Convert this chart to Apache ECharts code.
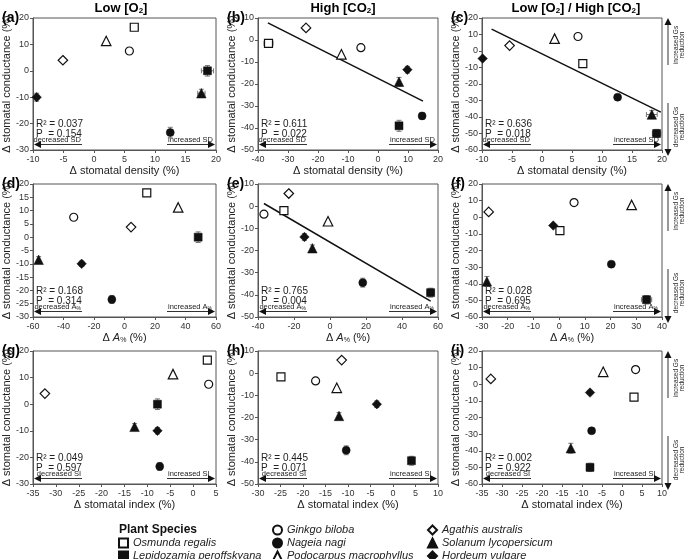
<!DOCTYPE html>
<html><head><meta charset="utf-8">
<script src="https://cdn.jsdelivr.net/npm/echarts@6/dist/echarts.min.js"></script>
<style>html,body{margin:0;padding:0;background:#fff}#c{width:685px;height:559px}</style>
</head><body><div id="c"></div><script>
// ---------- data ----------
const species = ['Osmunda regalis','Lepidozamia peroffskyana','Ginkgo biloba','Nageia nagi','Podocarpus macrophyllus','Agathis australis','Solanum lycopersicum','Hordeum vulgare'];
const symbols = ['rect','rect','circle','circle','triangle','diamond','triangle','diamond'];
const filled  = [false,true,false,true,false,false,true,true];

const aX = [6.6, 18.6, 5.8, 12.5, 2.0, -5.1, 17.6, -9.4];
const aY = [16.5, 0, 7.5, -23.4, 11.3, 4.0, -8.5, -10];
const bX = [-36.5, 7.0, -5.7, 14.7, -12.2, -24.0, 7.0, 9.8];
const bY = [-1.5, -39, -3.5, -34.5, -6.5, 5.5, -19, -13.5];
const cX = [6.8, 19.1, 6.0, 12.6, 2.1, -5.4, 18.3, -9.9];
const cY = [-7.7, -50, 8.8, -28, 7.5, 3.3, -38.5, -4.6];
const dX = [14.6, 48.3, -33.3, -8.3, 35.2, 4.3, -56.3, -28.1];
const dY = [16.7, 0, 7.5, -23.4, 11.2, 3.8, -8.5, -10];
const eX = [-25.6, 55.9, -36.7, 18.2, -1.1, -22.9, -9.8, -14.2];
const eY = [-2, -39, -3.6, -34.5, -6.8, 5.7, -19, -13.9];
const fX = [0.3, 34.0, 5.8, 20.3, 28.2, -27.4, -28.1, -2.3];
const fY = [-8, -49.6, 8.8, -28.2, 7.4, 3.2, -38.6, -5];
const gX = [3.1, -7.8, 3.4, -7.3, -4.4, -32.4, -12.8, -7.8];
const gY = [16.6, 0, 7.5, -23.4, 11.3, 4.0, -8.5, -10];
const hX = [-24.9, 4.1, -17.2, -10.4, -12.5, -11.4, -12.0, -3.6];
const hY = [-1.7, -39.5, -3.5, -34.8, -6.6, 5.9, -19.3, -14];
const iX = [3.0, -8.0, 3.4, -7.6, -4.7, -32.8, -12.8, -8.0];
const iY = [-7.8, -50, 8.8, -28, 7.5, 3.2, -38.5, -5];

// error bars (x half-width, y half-width), species order
const aEx = [0, 1.0, 0, 0, 0, 0, 0.6, 0.4], aEy = [0, 2, 0, 2, 0, 0, 1.5, 1.5];
const bEx = [1.5, 0, 0, 0, 0, 1, 0, 0],     bEy = [0, 2.5, 0, 1.5, 0, 0, 2, 1.5];
const cEx = [0, 0.7, 0, 0, 0, 0, 0.9, 0],   cEy = [0, 2.5, 0, 1.5, 0, 0, 2.5, 1];
const dEx = [0, 1.5, 0, 0, 0, 0, 0, 1.5],   dEy = [0, 2, 0, 1.5, 0, 0, 1.2, 1];
const eEx = [0, 2, 0, 0, 0, 0, 0, 0],       eEy = [0, 2, 0, 2, 0, 0, 1.5, 1.5];
const fEx = [0, 2, 0, 0, 0, 0, 0, 0],       fEy = [0, 2.5, 0, 1.5, 0, 0, 3, 0];
const gEx = [0, 0, 0, 0, 0, 0, 0, 0],       gEy = [0, 2, 0, 1.5, 0, 0, 1.2, 1.2];
const hEx = [0, 0, 0, 0, 0, 0, 0, 0],       hEy = [0, 2, 0, 2, 0, 0, 1.5, 1.5];
const iEx = [0, 0, 0, 0, 0, 0, 0, 0],       iEy = [0, 2.5, 0, 1.5, 0, 0, 3, 1];

// regression lines (end points)
const bLine = [[-36.7, 7.8], [15, -27.8]];
const cLine = [[-8.4, 13.3], [19.8, -37]];
const eLine = [[-36.7, 1.2], [55.9, -42.8]];

const r2   = ['0.037','0.611','0.636','0.168','0.765','0.028','0.049','0.445','0.002'];
const pval = ['0.154','0.022','0.018','0.314','0.004','0.695','0.597','0.071','0.922'];

const xRange = [[-10,20,5],[-40,20,10],[-10,20,5],[-60,60,20],[-40,60,20],[-30,40,10],[-35,5,5],[-30,10,5],[-35,10,5]];
const yRange = [[-30,20,10],[-50,10,10],[-60,20,10],[-30,20,5],[-50,10,10],[-60,20,10],[-30,20,10],[-50,10,10],[-60,20,10]];

const colTitles = ['{b|Low [O}{s|2}{b|]}','{b|High [CO}{s|2}{b|]}','{b|Low [O}{s|2}{b|] / High [CO}{s|2}{b|]}'];
const panelLabels = ['(a)','(b)','(c)','(d)','(e)','(f)','(g)','(h)','(i)'];
const xNames = ['Δ stomatal density (%)','Δ {i|A}{s|%} (%)','Δ stomatal index (%)'];
const yName = 'Δ stomatal conductance (%)';
const leftAnno  = ['decreased SD','decreased {t|A}{ts|%}','decreased SI'];
const rightAnno = ['increased SD','increased {t|A}{ts|%}','increased SI'];

// ---------- build ----------
const FONT = '"Liberation Sans", Arial, Helvetica, sans-serif';
const panelsX = [aX,bX,cX,dX,eX,fX,gX,hX,iX];
const panelsY = [aY,bY,cY,dY,eY,fY,gY,hY,iY];
const panelsEx = [aEx,bEx,cEx,dEx,eEx,fEx,gEx,hEx,iEx];
const panelsEy = [aEy,bEy,cEy,dEy,eEy,fEy,gEy,hEy,iEy];
const lines = {1: bLine, 2: cLine, 4: eLine};

const cols = [{l:33,w:183},{l:258,w:180},{l:482,w:180}];
const rows = [{t:18,h:132},{t:184,h:133},{t:351,h:133}];
const AX = '#555';
const INK = '#222';

const grids=[], xAxes=[], yAxes=[], series=[], graphics=[];
const smallRich = {
  t:{fontSize:7.5, fontFamily:FONT, fill:INK},
  ts:{fontSize:5, fontFamily:FONT, fill:INK, padding:[3,0,0,0]}
};

for (let i=0;i<9;i++){
  const ci=i%3, ri=Math.floor(i/3);
  const c=cols[ci], r=rows[ri];
  grids.push({left:c.l, top:r.t, width:c.w, height:r.h, show:true, borderColor:AX, borderWidth:1, containLabel:false});
  xAxes.push({
    gridIndex:i, type:'value', min:xRange[i][0], max:xRange[i][1], interval:xRange[i][2],
    splitLine:{show:false},
    axisLine:{show:true, onZero:false, lineStyle:{color:AX}},
    axisTick:{show:true, length:3, lineStyle:{color:AX}},
    axisLabel:{fontSize:9, color:'#333', margin:5, fontFamily:FONT, showMinLabel:true, showMaxLabel:true},
    name:xNames[ri], nameLocation:'middle', nameGap:15,
    nameTextStyle:{fontSize:11, color:INK, fontFamily:FONT,
      rich:{i:{fontSize:11, fontStyle:'italic', color:INK, fontFamily:FONT}, s:{fontSize:7, color:INK, fontFamily:FONT, padding:[5,0,0,0]}}}
  });
  yAxes.push({
    gridIndex:i, type:'value', min:yRange[i][0], max:yRange[i][1], interval:yRange[i][2],
    splitLine:{show:false},
    axisLine:{show:true, onZero:false, lineStyle:{color:AX}},
    axisTick:{show:true, length:3, lineStyle:{color:AX}},
    axisLabel:{fontSize:9, color:'#333', margin:4, fontFamily:FONT, showMinLabel:true, showMaxLabel:true},
    name:yName, nameLocation:'middle', nameGap:18,
    nameTextStyle:{fontSize:11, color:INK, fontFamily:FONT}
  });

  // error bars
  const errData = panelsX[i].map((x,k)=>[x, panelsY[i][k], panelsEx[i][k], panelsEy[i][k]]);
  series.push({
    type:'custom', xAxisIndex:i, yAxisIndex:i, silent:true, z:1,
    encode:{x:0, y:1},
    renderItem:(params, api)=>{
      const x=api.value(0), y=api.value(1), xe=api.value(2), ye=api.value(3);
      const ch=[]; const st={stroke:'#777', lineWidth:1};
      if (xe>0){
        const p1=api.coord([x-xe,y]), p2=api.coord([x+xe,y]);
        ch.push({type:'line', shape:{x1:p1[0],y1:p1[1],x2:p2[0],y2:p2[1]}, style:st});
        ch.push({type:'line', shape:{x1:p1[0],y1:p1[1]-2.5,x2:p1[0],y2:p1[1]+2.5}, style:st});
        ch.push({type:'line', shape:{x1:p2[0],y1:p2[1]-2.5,x2:p2[0],y2:p2[1]+2.5}, style:st});
      }
      if (ye>0){
        const p1=api.coord([x,y-ye]), p2=api.coord([x,y+ye]);
        ch.push({type:'line', shape:{x1:p1[0],y1:p1[1],x2:p2[0],y2:p2[1]}, style:st});
        ch.push({type:'line', shape:{x1:p1[0]-2.5,y1:p1[1],x2:p1[0]+2.5,y2:p1[1]}, style:st});
        ch.push({type:'line', shape:{x1:p2[0]-2.5,y1:p2[1],x2:p2[0]+2.5,y2:p2[1]}, style:st});
      }
      return {type:'group', children:ch};
    },
    data:errData
  });

  // regression line
  if (lines[i]) {
    series.push({type:'line', xAxisIndex:i, yAxisIndex:i, data:lines[i], symbol:'none', silent:true, z:2,
      lineStyle:{color:'#111', width:1.5}});
  }

  // species points
  species.forEach((name,k)=>{
    const sym = symbols[k];
    const size = sym==='circle' ? 8 : (sym==='rect' ? 8 : 9.5);
    series.push({
      type:'scatter', name:name, xAxisIndex:i, yAxisIndex:i, z:3,
      symbol:sym, symbolSize:size,
      itemStyle:{color: filled[k] ? '#111' : '#fff', borderColor:'#111', borderWidth: filled[k]?0.5:1.2, opacity:1},
      data:[[panelsX[i][k], panelsY[i][k]]]
    });
  });

  // panel label
  const lx = ci===0 ? 2 : (ci===1 ? 227 : 451);
  graphics.push({type:'text', x:lx, y:r.t, style:{text:panelLabels[i], font:'bold 14px '+FONT, fill:'#000', textAlign:'left', textVerticalAlign:'middle', align:'left', verticalAlign:'middle'}});

  const gl=c.l, gr=c.l+c.w, gb=r.t+r.h;
  // R2 / P
  graphics.push({type:'text', x:gl+3, y:gb-26, style:{text:'R² = '+r2[i], font:'10px '+FONT, fill:INK, textAlign:'left', textVerticalAlign:'middle', align:'left', verticalAlign:'middle'}});
  graphics.push({type:'text', x:gl+3, y:gb-16, style:{text:'P  = '+pval[i], font:'10px '+FONT, fill:INK, textAlign:'left', textVerticalAlign:'middle', align:'left', verticalAlign:'middle'}});
  // bottom arrows
  const ay = gb-5.5;
  graphics.push({type:'line', shape:{x1:gl+5, y1:ay, x2:gl+49, y2:ay}, style:{stroke:'#333', lineWidth:1}});
  graphics.push({type:'polygon', shape:{points:[[gl+1,ay],[gl+8,ay-3.5],[gl+8,ay+3.5]]}, style:{fill:'#111'}});
  graphics.push({type:'line', shape:{x1:gr-49, y1:ay, x2:gr-5, y2:ay}, style:{stroke:'#333', lineWidth:1}});
  graphics.push({type:'polygon', shape:{points:[[gr-1,ay],[gr-8,ay-3.5],[gr-8,ay+3.5]]}, style:{fill:'#111'}});
  graphics.push({type:'text', x:gl+48, y:ay-0.5, style:{text:leftAnno[ri], rich:smallRich, font:'7.5px '+FONT, fill:INK, textAlign:'right', textVerticalAlign:'bottom', align:'right', verticalAlign:'bottom'}});
  graphics.push({type:'text', x:gr-48, y:ay-0.5, style:{text:rightAnno[ri], rich:smallRich, font:'7.5px '+FONT, fill:INK, textAlign:'left', textVerticalAlign:'bottom', align:'left', verticalAlign:'bottom'}});

  // right-side annotation (column 3)
  if (ci===2){
    const ax = gr+6, top=r.t, bot=gb;
    graphics.push({type:'line', shape:{x1:ax, y1:top+6, x2:ax, y2:top+47}, style:{stroke:'#333', lineWidth:1}});
    graphics.push({type:'polygon', shape:{points:[[ax,top],[ax-3.5,top+7],[ax+3.5,top+7]]}, style:{fill:'#111'}});
    graphics.push({type:'line', shape:{x1:ax, y1:top+85, x2:ax, y2:bot}, style:{stroke:'#333', lineWidth:1}});
    graphics.push({type:'polygon', shape:{points:[[ax,bot+6],[ax-3.5,bot-1],[ax+3.5,bot-1]]}, style:{fill:'#111'}});
    const tAnno = [['increased Gs','reduction', top+27],['decreased Gs','reduction', top+109]];
    tAnno.forEach(t=>{
      graphics.push({type:'text', x:ax+8, y:t[2], rotation:Math.PI/2, style:{text:t[0], x:0, y:0, font:'6.5px '+FONT, fill:INK, textAlign:'center', textVerticalAlign:'middle', align:'center', verticalAlign:'middle'}});
      graphics.push({type:'text', x:ax+14, y:t[2], rotation:Math.PI/2, style:{text:t[1], x:0, y:0, font:'6.5px '+FONT, fill:INK, textAlign:'center', textVerticalAlign:'middle', align:'center', verticalAlign:'middle'}});
    });
  }
}

// column titles
const titleX = [121, 343, 576];
titleX.forEach((x,ci)=>{
  graphics.push({type:'text', x:x, y:8, style:{text:colTitles[ci],
    rich:{b:{font:'bold 13px '+FONT, fill:'#000'}, s:{font:'bold 8px '+FONT, fill:'#000', padding:[6,0,0,0]}},
    textAlign:'center', textVerticalAlign:'middle', align:'center', verticalAlign:'middle'}});
});
// legend title
graphics.push({type:'text', x:119, y:530, style:{text:'Plant Species', font:'bold 12px '+FONT, fill:'#111', textAlign:'left', textVerticalAlign:'middle', align:'left', verticalAlign:'middle'}});

const legBase = {orient:'vertical', itemWidth:9, itemHeight:9, itemGap:1, selectedMode:false, padding:0, height:60, width:200,
  textStyle:{fontSize:11, fontStyle:'italic', color:INK, fontFamily:FONT, lineHeight:12}};
const option = {
  animation:false,
  backgroundColor:'#fff',
  grid:grids, xAxis:xAxes, yAxis:yAxes, series:series, graphic:graphics,
  legend:[
    Object.assign({}, legBase, {data:[species[0], species[1]], left:118, top:537}),
    Object.assign({}, legBase, {data:[species[2], species[3], species[4]], left:272, top:524}),
    Object.assign({}, legBase, {data:[species[5], species[6], species[7]], left:427, top:524})
  ]
};
const chart = echarts.init(document.getElementById('c'));
chart.setOption(option);
</script></body></html>
